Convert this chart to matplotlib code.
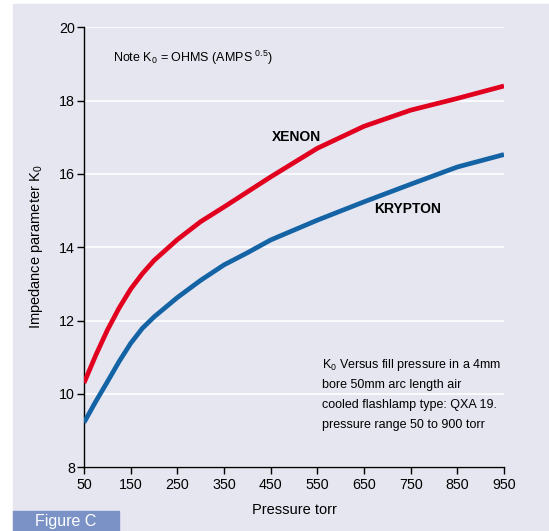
"""Impedance parameter K0 versus fill pressure for xenon and krypton flashlamps."""

import matplotlib.pyplot as plt
from matplotlib.patches import Rectangle

plt.rcParams["font.family"] = ["Liberation Sans", "DejaVu Sans"]
plt.rcParams["mathtext.fontset"] = "custom"
plt.rcParams["mathtext.rm"] = "Liberation Sans"
plt.rcParams["mathtext.it"] = "Liberation Sans"

# Data
pressure = [50, 75, 100, 125, 150, 175, 200, 250, 300, 350, 400, 450, 550, 650,
            750, 850, 950]
xenon = [10.3, 11.05, 11.74, 12.34, 12.86, 13.28, 13.64, 14.21, 14.7, 15.1,
         15.51, 15.92, 16.7, 17.3, 17.74, 18.06, 18.4]
krypton = [9.22, 9.79, 10.33, 10.88, 11.38, 11.79, 12.1, 12.63, 13.1, 13.52,
           13.85, 14.2, 14.74, 15.24, 15.72, 16.19, 16.53]
x_ticks = [50, 150, 250, 350, 450, 550, 650, 750, 850, 950]
y_ticks = [8, 10, 12, 14, 16, 18, 20]
notes = [
    "K$_0$ Versus fill pressure in a 4mm",
    "bore 50mm arc length air",
    "cooled flashlamp type: QXA 19.",
    "pressure range 50 to 900 torr",
]

BG = "#E6E6F1"
RED = "#E2001F"
BLUE = "#1464A5"

fig = plt.figure(figsize=(5.49, 5.31), dpi=100, facecolor="white")
W, H = 549, 531

# lavender panel behind the chart
fig.add_artist(Rectangle((13 / W, 0), 1 - 13 / W, 527 / H,
                         transform=fig.transFigure, color=BG, zorder=-2))
# "Figure C" tab
fig.add_artist(Rectangle((13 / W, 0), 106 / W, 20 / H,
                         transform=fig.transFigure, color="#7A92C5", zorder=-1))
fig.text(35 / W, 9.5 / H, "Figure C", color="white", fontsize=11.5,
         va="center", ha="left")

ax = fig.add_axes([84 / W, (H - 467.3) / H, 420 / W, 440 / H])
ax.set_facecolor(BG)

ax.plot(pressure, xenon, color=RED, lw=3.4, solid_joinstyle="round",
        solid_capstyle="butt", zorder=3)
ax.plot(pressure, krypton, color=BLUE, lw=3.4, solid_joinstyle="round",
        solid_capstyle="butt", zorder=3)

ax.set_xlim(50, 950)
ax.set_ylim(8, 20)
ax.set_xticks(x_ticks)
ax.set_yticks(y_ticks)
ax.grid(axis="y", color="white", lw=1.2, zorder=1)
ax.set_axisbelow(True)

for side in ("top", "right"):
    ax.spines[side].set_visible(False)
for side in ("left", "bottom"):
    ax.spines[side].set_color("black")
    ax.spines[side].set_linewidth(1.0)
ax.tick_params(direction="out", length=5, width=1, labelsize=10.3)
ax.tick_params(axis="x", pad=2.5)
ax.tick_params(axis="y", pad=1.5)

ax.set_xlabel("Pressure torr", fontsize=10.5, labelpad=8)
ax.set_ylabel("Impedance parameter K$_0$", fontsize=10.5, labelpad=10)

ax.text(113, 19.17, "Note K$_0$ = OHMS (AMPS $^{0.5}$)", fontsize=9,
        va="center", ha="left")

ax.text(505, 17.0, "XENON", fontsize=10, fontweight="bold", ha="center", va="center")
ax.text(744, 15.04, "KRYPTON", fontsize=10, fontweight="bold", ha="center", va="center")

for i, line in enumerate(notes):
    ax.text(560, 10.8 - i * 0.545, line, fontsize=9, ha="left", va="center")

fig.savefig("out.png", dpi=100, facecolor=fig.get_facecolor())
plt.close(fig)
